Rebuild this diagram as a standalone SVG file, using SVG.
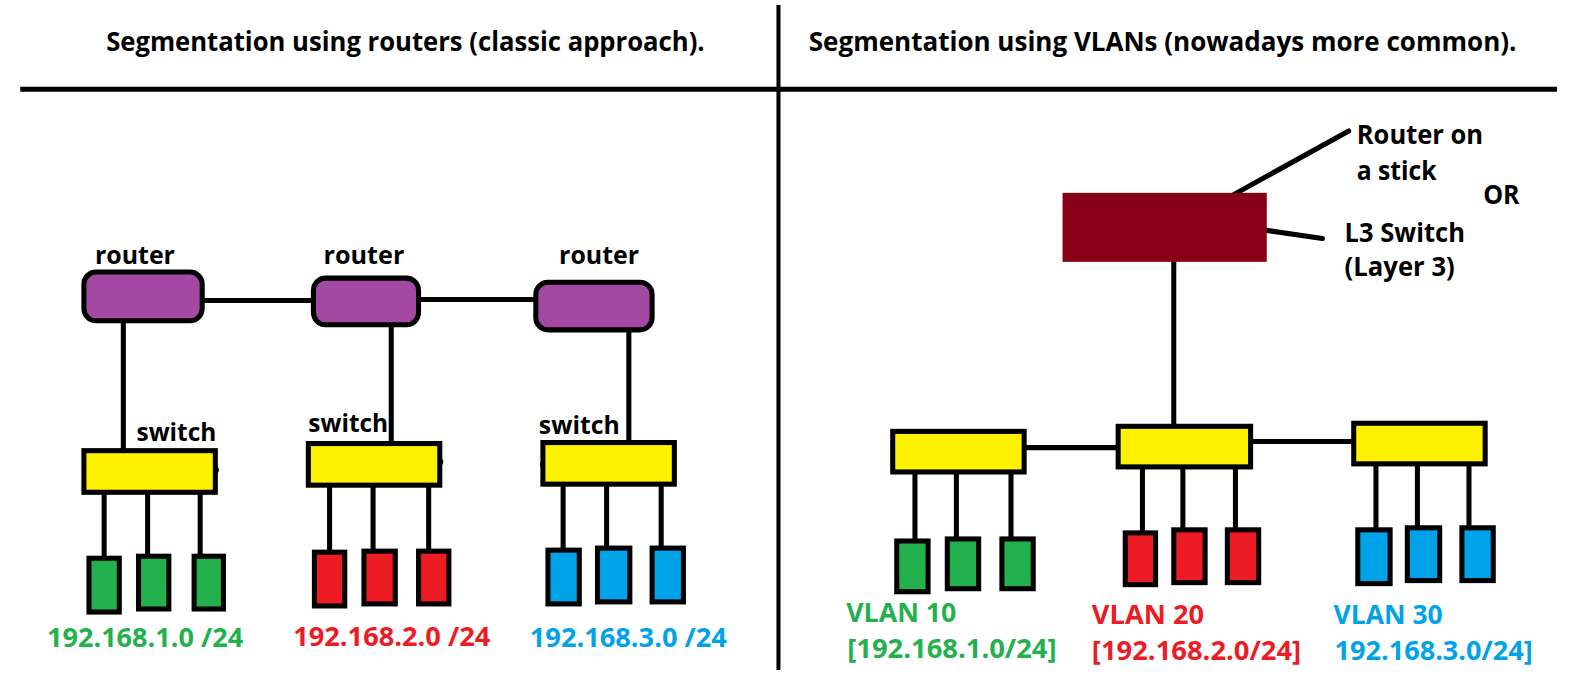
<svg xmlns="http://www.w3.org/2000/svg" width="1585" height="694" viewBox="0 0 1585 694">
<style>
text{font-family:"Open Sans","Noto Sans","Liberation Sans",sans-serif;font-weight:bold;font-size:24px}
.t{font-size:26.5px}.n{font-size:25.5px}.ip{font-size:25.5px}.vl{font-size:27px}
.k{fill:#000}
.g{fill:#22B14C}.r{fill:#ED1C24}.b{fill:#00A2E8}
.ln{stroke:#000;stroke-width:5;stroke-linecap:round;fill:none}
.rt{fill:#A349A4;stroke:#000;stroke-width:5}
.sw{fill:#FFF200;stroke:#000;stroke-width:5}
.hg{fill:#22B14C;stroke:#000;stroke-width:5}
.hr{fill:#ED1C24;stroke:#000;stroke-width:5}
.hb{fill:#00A2E8;stroke:#000;stroke-width:5}
</style>
<rect width="1585" height="694" fill="#fff"/>
<g id="diagram" transform="scale(1.011,1.015)">
<g id="frame">
<line x1="770" y1="5" x2="770" y2="660" stroke="#000" stroke-width="4"/>
<line x1="20" y1="88" x2="1540" y2="88" stroke="#000" stroke-width="5"/>
<text class="k t" x="105" y="50" textLength="592" lengthAdjust="spacingAndGlyphs">Segmentation using routers (classic approach).</text>
<text class="k t" x="800" y="50" textLength="700" lengthAdjust="spacingAndGlyphs">Segmentation using VLANs (nowadays more common).</text>
</g>
<g id="connectors">
<line class="ln" x1="200" y1="296" x2="310" y2="296"/>
<line class="ln" x1="414" y1="295" x2="530" y2="295"/>
<line class="ln" x1="122" y1="316" x2="122" y2="452"/>
<line class="ln" x1="387" y1="320" x2="387" y2="444"/>
<line class="ln" x1="622" y1="325" x2="622" y2="442"/>
<line class="ln" x1="103" y1="466" x2="103" y2="560"/>
<line class="ln" x1="146" y1="479" x2="146" y2="556"/>
<line class="ln" x1="198" y1="468" x2="198" y2="556"/>
<line class="ln" x1="326" y1="462" x2="326" y2="555"/>
<line class="ln" x1="369" y1="474" x2="369" y2="551"/>
<line class="ln" x1="424" y1="470" x2="424" y2="551"/>
<line class="ln" x1="557" y1="462" x2="557" y2="552"/>
<line class="ln" x1="600" y1="473" x2="600" y2="549"/>
<line class="ln" x1="654" y1="469" x2="654" y2="549"/>
<circle cx="213" cy="463" r="3.5" fill="#000"/>
<circle cx="435" cy="455" r="3.5" fill="#000"/>
<circle cx="537" cy="458" r="3" fill="#000"/>
<line class="ln" x1="1218" y1="193" x2="1334" y2="129"/>
<line class="ln" x1="1212" y1="221" x2="1308" y2="235"/>
<line class="ln" x1="1161" y1="249" x2="1161" y2="430"/>
<line class="ln" x1="1013" y1="441" x2="1106" y2="441"/>
<line class="ln" x1="1237" y1="435" x2="1339" y2="435"/>
<line class="ln" x1="905" y1="451" x2="905" y2="545"/>
<line class="ln" x1="946" y1="456" x2="946" y2="540"/>
<line class="ln" x1="1000" y1="454" x2="1000" y2="540"/>
<line class="ln" x1="1130" y1="447" x2="1130" y2="535"/>
<line class="ln" x1="1170" y1="451" x2="1170" y2="532"/>
<line class="ln" x1="1222" y1="447" x2="1222" y2="532"/>
<line class="ln" x1="1361" y1="443" x2="1361" y2="533"/>
<line class="ln" x1="1402" y1="447" x2="1402" y2="530"/>
<line class="ln" x1="1453" y1="441" x2="1453" y2="530"/>
</g>
<g id="router1"><rect class="rt" x="83" y="268" width="117" height="48" rx="12"/><text class="k" x="94" y="260" textLength="79" lengthAdjust="spacingAndGlyphs">router</text></g>
<g id="router2"><rect class="rt" x="310" y="274" width="104" height="46" rx="12"/><text class="k" x="320" y="260" textLength="80" lengthAdjust="spacingAndGlyphs">router</text></g>
<g id="router3"><rect class="rt" x="530" y="278" width="115" height="47" rx="12"/><text class="k" x="553" y="260" textLength="79" lengthAdjust="spacingAndGlyphs">router</text></g>
<g id="switch1"><rect class="sw" x="83" y="444" width="130" height="41"/><text class="k" x="135" y="434" textLength="79" lengthAdjust="spacingAndGlyphs">switch</text></g>
<g id="switch2"><rect class="sw" x="305" y="437" width="130" height="41"/><text class="k" x="305" y="426" textLength="79" lengthAdjust="spacingAndGlyphs">switch</text></g>
<g id="switch3"><rect class="sw" x="537" y="436" width="130" height="41"/><text class="k" x="533" y="428" textLength="80" lengthAdjust="spacingAndGlyphs">switch</text></g>
<g id="hosts-left-green"><rect class="hg" x="88" y="550" width="30" height="53"/><rect class="hg" x="137" y="548" width="30" height="52"/><rect class="hg" x="192" y="548" width="29" height="52"/></g>
<g id="hosts-left-red"><rect class="hr" x="311" y="544" width="30" height="53"/><rect class="hr" x="360" y="543" width="31" height="52"/><rect class="hr" x="414" y="543" width="30" height="52"/></g>
<g id="hosts-left-blue"><rect class="hb" x="542" y="542" width="31" height="53"/><rect class="hb" x="591" y="540" width="32" height="53"/><rect class="hb" x="645" y="540" width="31" height="53"/></g>
<g id="labels-left">
<text class="g ip" x="46.5" y="637" textLength="194" lengthAdjust="spacingAndGlyphs">192.168.1.0 /24</text>
<text class="r ip" x="290" y="636" textLength="195" lengthAdjust="spacingAndGlyphs">192.168.2.0 /24</text>
<text class="b ip" x="524" y="637" textLength="195" lengthAdjust="spacingAndGlyphs">192.168.3.0 /24</text>
</g>
<g id="l3device"><rect x="1051" y="190" width="202" height="68" fill="#880015"/></g>
<g id="notes">
<text class="k n" x="1342" y="142" textLength="125" lengthAdjust="spacingAndGlyphs">Router on</text>
<text class="k n" x="1342" y="177" textLength="79" lengthAdjust="spacingAndGlyphs">a stick</text>
<text class="k n" x="1467" y="201" textLength="36" lengthAdjust="spacingAndGlyphs">OR</text>
<text class="k n" x="1330" y="238" textLength="119" lengthAdjust="spacingAndGlyphs">L3 Switch</text>
<text class="k n" x="1330" y="272" textLength="109" lengthAdjust="spacingAndGlyphs">(Layer 3)</text>
</g>
<g id="vswitch1"><rect class="sw" x="883" y="425" width="130" height="40"/></g>
<g id="vswitch2"><rect class="sw" x="1106" y="420" width="131" height="40"/></g>
<g id="vswitch3"><rect class="sw" x="1339" y="417" width="130" height="40"/></g>
<g id="hosts-right-green"><rect class="hg" x="887" y="533" width="31" height="50"/><rect class="hg" x="937" y="531" width="31" height="49"/><rect class="hg" x="991" y="531" width="31" height="49"/></g>
<g id="hosts-right-red"><rect class="hr" x="1113" y="525" width="30" height="51"/><rect class="hr" x="1161" y="522" width="31" height="52"/><rect class="hr" x="1214" y="522" width="31" height="52"/></g>
<g id="hosts-right-blue"><rect class="hb" x="1343" y="522" width="32" height="53"/><rect class="hb" x="1392" y="520" width="32" height="52"/><rect class="hb" x="1446" y="520" width="31" height="52"/></g>
<g id="labels-right">
<text class="g vl" x="837" y="613" textLength="109" lengthAdjust="spacingAndGlyphs">VLAN 10</text>
<text class="g vl" x="838" y="648" textLength="207" lengthAdjust="spacingAndGlyphs">[192.168.1.0/24]</text>
<text class="r vl" x="1080" y="615" textLength="111" lengthAdjust="spacingAndGlyphs">VLAN 20</text>
<text class="r vl" x="1080" y="650" textLength="207" lengthAdjust="spacingAndGlyphs">[192.168.2.0/24]</text>
<text class="b vl" x="1319" y="615" textLength="108" lengthAdjust="spacingAndGlyphs">VLAN 30</text>
<text class="b vl" x="1320" y="650" textLength="196" lengthAdjust="spacingAndGlyphs">192.168.3.0/24]</text>
</g>
</g>
</svg>
